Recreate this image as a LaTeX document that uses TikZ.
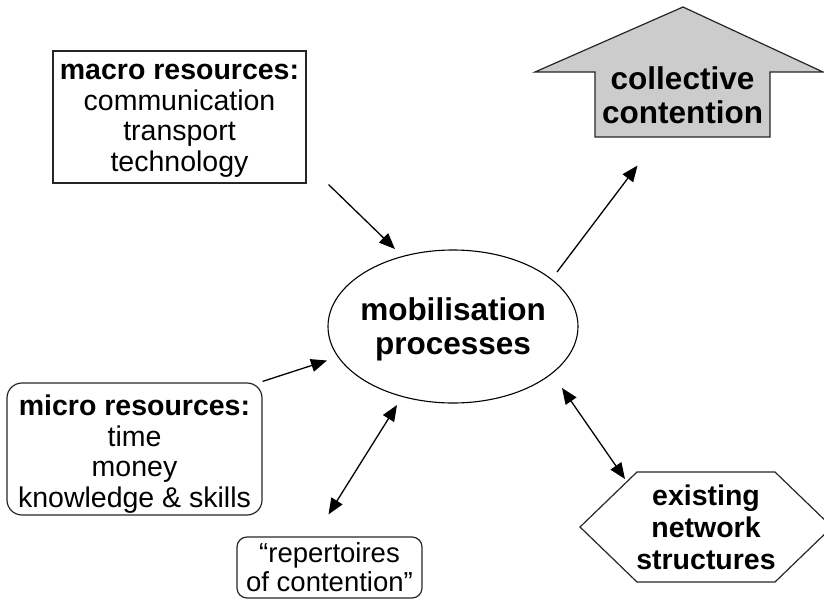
\documentclass[tikz,border=0pt]{standalone}
\usepackage{fontspec}
\setmainfont{Liberation Sans}
\usetikzlibrary{arrows.meta,shapes.geometric}
\begin{document}
\begin{tikzpicture}[x=1pt,y=-1pt,
  arr/.style={line width=1.3pt, -{Triangle[length=16pt,width=13pt]}},
  darr/.style={line width=1.3pt, {Triangle[length=16pt,width=13pt]}-{Triangle[length=16pt,width=13pt]}},
  outline/.style={draw=black!85, line width=1.2pt},
  boxtext/.style={align=center, inner sep=0pt, font=\fontsize{28.5}{30.5}\selectfont},
  bigtext/.style={align=center, inner sep=0pt, font=\bfseries\fontsize{31.5}{34}\selectfont}
]
\useasboundingbox (0,0) rectangle (824,605);
\clip (0,0) rectangle (824,605);

% macro resources
\node[outline, minimum width=253pt, minimum height=132pt] (macro) at (179.5,117) {};
\node[boxtext] (macrotext) at ([yshift=-4pt]macro.center)
  {\textbf{macro resources:}\\communication\\transport\\technology};

% micro resources
\node[outline, rounded corners=15pt, minimum width=255pt, minimum height=132pt] (micro) at (134.5,449) {};
\node[boxtext] (microtext) at ([yshift=-5pt]micro.center)
  {\textbf{micro resources:}\\time\\money\\knowledge \& skills};

% repertoires
\node[outline, align=center, inner sep=0pt, font=\fontsize{27.5}{29}\selectfont, rounded corners=10pt, minimum width=185pt, minimum height=61pt] (rep) at (329.5,567.5)
  {“repertoires\\of contention”};

% mobilisation ellipse
\node[draw, ellipse, line width=1.1pt, minimum width=250pt, minimum height=153pt] (mob) at (453,326.5) {};
\node[bigtext] (mobtext) at ([yshift=-3pt]mob.center) {mobilisation\\processes};

% collective contention arrow
\coordinate (collc) at (682.5,104.5);
\begin{scope}[shift={(collc)}]
  \draw[outline, fill=black!20] (-87.5,32.5) -- (-87.5,-32.5) -- (-147.5,-32.5) -- (0.5,-97.5)
     -- (140.5,-32.5) -- (87.5,-32.5) -- (87.5,32.5) -- cycle;
\end{scope}
\node[bigtext] (coll) at (682.5,95) {collective\\contention};

% existing network structures hexagon
\node[align=center, inner sep=0pt, font=\bfseries\fontsize{28.5}{32}\selectfont] (hex) at (706,527)
  {existing\\network\\structures};
\begin{scope}[shift={(hex.center)}]
  \draw[outline] (-69,-55) -- (69,-55) -- (126,0) -- (69,55) -- (-69,55) -- (-126,0) -- cycle;
\end{scope}

% connectors
\draw[arr] ([shift={(22,1)}]macro.south east) -- ([shift={(-58,-77.5)}]mob.center);
\draw[arr] ([shift={(104,-54.5)}]mob.center) -- ([shift={(-45,61)}]collc);
\draw[arr] ([shift={(0,-1)}]micro.north east) -- ([shift={(-126,34)}]mob.center);
\draw[darr] ([shift={(-1,-22)}]rep.north) -- ([shift={(-56,78.5)}]mob.center);
\draw[darr] ([shift={(109,61.5)}]mob.center) -- ([shift={(-81,-48)}]hex.center);
\end{tikzpicture}
\end{document}
